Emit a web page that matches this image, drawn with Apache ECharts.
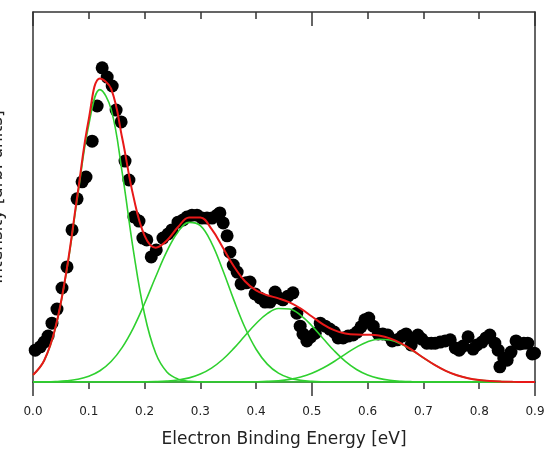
<!DOCTYPE html>
<html>
<head>
<meta charset="utf-8">
<script src="https://cdn.jsdelivr.net/npm/echarts@6/dist/echarts.min.js"></script>
<style>
html,body{margin:0;padding:0;background:#fff;}
#chart{width:547px;height:457px;}
</style>
</head>
<body>
<div id="chart"></div>
<script>
// Measured data points: electron binding energy (eV) and intensity (arb. units)
const energy = [0.004,0.013,0.020,0.027,0.034,0.043,0.052,0.061,0.070,0.079,0.088,0.095,0.106,0.115,0.124,0.133,0.142,0.149,0.158,0.165,0.172,0.181,0.190,0.197,0.204,0.212,0.221,0.233,0.242,0.249,0.260,0.269,0.276,0.285,0.294,0.303,0.312,0.321,0.330,0.335,0.341,0.348,0.353,0.359,0.366,0.373,0.382,0.389,0.398,0.407,0.416,0.425,0.434,0.441,0.448,0.457,0.466,0.473,0.479,0.484,0.491,0.498,0.506,0.515,0.524,0.532,0.540,0.547,0.556,0.565,0.574,0.581,0.588,0.595,0.602,0.610,0.619,0.627,0.636,0.644,0.653,0.662,0.669,0.678,0.683,0.690,0.697,0.706,0.714,0.721,0.730,0.739,0.748,0.757,0.764,0.771,0.780,0.789,0.796,0.805,0.812,0.819,0.828,0.834,0.837,0.844,0.850,0.857,0.866,0.873,0.880,0.887,0.895,0.899];
const intensity = [0.086,0.095,0.108,0.124,0.159,0.197,0.254,0.311,0.411,0.495,0.541,0.554,0.651,0.746,0.849,0.824,0.800,0.735,0.703,0.597,0.546,0.446,0.435,0.389,0.384,0.338,0.357,0.389,0.400,0.411,0.432,0.438,0.446,0.451,0.451,0.443,0.443,0.443,0.451,0.457,0.430,0.395,0.351,0.316,0.297,0.265,0.268,0.270,0.238,0.227,0.216,0.216,0.243,0.227,0.222,0.232,0.241,0.186,0.151,0.130,0.111,0.122,0.132,0.159,0.151,0.143,0.135,0.119,0.119,0.124,0.127,0.135,0.149,0.168,0.173,0.151,0.130,0.130,0.127,0.111,0.114,0.124,0.130,0.100,0.119,0.127,0.116,0.105,0.105,0.105,0.108,0.111,0.114,0.092,0.086,0.097,0.122,0.089,0.100,0.108,0.119,0.127,0.105,0.086,0.041,0.065,0.059,0.081,0.111,0.103,0.105,0.105,0.076,0.078];

// Fit curves sampled along energy
const fitEnergy = [0,0.02,0.04,0.06,0.08,0.10,0.12,0.14,0.16,0.18,0.20,0.22,0.24,0.26,0.28,0.30,0.32,0.34,0.36,0.38,0.40,0.42,0.44,0.46,0.48,0.50,0.52,0.54,0.56,0.58,0.60,0.62,0.64,0.66,0.68,0.70,0.72,0.74,0.76,0.78,0.80,0.82,0.84,0.86,0.88,0.90];
const peak1 = [0.0189,0.0577,0.1445,0.2973,0.5017,0.6950,0.7902,0.7374,0.5649,0.3551,0.1832,0.0776,0.0270,0.0077,0.0018,0.0003,0,0,0,0,0,0,0,0,0,0,0,0,0,0,0,0,0,0,0,0,0,0,0,0,0,0,0,0,0,0];
const peak2 = [0.0002,0.0005,0.0013,0.0031,0.0072,0.0154,0.0304,0.0554,0.0937,0.1465,0.2122,0.2845,0.3531,0.4057,0.4315,0.4228,0.3760,0.3033,0.2219,0.1473,0.0886,0.0484,0.0239,0.0107,0.0044,0.0016,0.0005,0.0002,0,0,0,0,0,0,0,0,0,0,0,0,0,0,0,0,0,0];
const peak3 = [0,0,0,0,0,0,0,0,0,0.0001,0.0004,0.0010,0.0024,0.0054,0.0112,0.0214,0.0376,0.0608,0.0908,0.1248,0.1581,0.1846,0.1987,0.1971,0.1802,0.1518,0.1178,0.0843,0.0556,0.0338,0.0189,0.0098,0.0046,0.0020,0.0008,0.0003,0.0001,0,0,0,0,0,0,0,0,0];
const peak4 = [0,0,0,0,0,0,0,0,0,0,0,0,0,0,0,0,0,0,0.0001,0.0003,0.0007,0.0016,0.0035,0.0072,0.0136,0.0236,0.0377,0.0555,0.0754,0.0943,0.1088,0.1157,0.1134,0.1024,0.0852,0.0653,0.0462,0.0301,0.0181,0.0100,0.0051,0.0024,0.0010,0.0004,0.0002,0.0001];
const fitTotal = [0.0191,0.0582,0.1458,0.3004,0.5089,0.7104,0.8206,0.7928,0.6586,0.5017,0.3958,0.3631,0.3825,0.4188,0.4445,0.4445,0.4136,0.3641,0.3128,0.2724,0.2474,0.2346,0.2261,0.2150,0.1982,0.1770,0.1560,0.1400,0.1310,0.1281,0.1277,0.1255,0.1180,0.1044,0.0860,0.0656,0.0463,0.0301,0.0181,0.0100,0.0051,0.0024,0.0010,0.0004,0.0002,0.0001];

const xName = 'Electron Binding Energy [eV]';
const yName = 'Intensity [arb. units]';

const pairs = (xs, ys) => xs.map((x, i) => [x, ys[i]]);

const axisColor = '#333';
const nameFont = {fontSize: 17, color: '#222', fontFamily: 'DejaVu Sans'};
const chart = echarts.init(document.getElementById('chart'), null, {renderer: 'canvas'});
function tickAxis(position, inside, length, interval, showLine) {
  return {
    type: 'value', min: 0, max: 0.9, interval: interval, position: position,
    axisLine: {show: showLine, onZero: false, lineStyle: {color: axisColor, width: 1.5}},
    axisTick: {show: true, inside: inside, length: length, lineStyle: {color: axisColor, width: 1.5}},
    axisLabel: {show: false}, splitLine: {show: false}
  };
}
chart.setOption({
  animation: false,
  backgroundColor: '#fff',
  grid: {left: 33, right: 12, top: 12, bottom: 75, show: false, containLabel: false, outerBoundsMode: 'none'},
  xAxis: [
    {
      type: 'value', min: 0, max: 0.9, interval: 0.1, position: 'bottom',
      name: xName, nameLocation: 'middle', nameGap: 49, nameTextStyle: nameFont,
      axisLine: {show: true, onZero: false, lineStyle: {color: axisColor, width: 1.5}},
      axisTick: {show: true, inside: false, length: 7, lineStyle: {color: axisColor, width: 1.5}},
      axisLabel: {show: true, margin: 24, fontSize: 12, color: '#222', fontFamily: 'DejaVu Sans',
        formatter: v => v.toFixed(1)},
      splitLine: {show: false}
    },
    tickAxis('bottom', false, 14, 0.5, false),
    tickAxis('top', true, 7, 0.1, true),
    tickAxis('top', true, 14, 0.5, false)
  ],
  yAxis: [
    {
      type: 'value', min: 0, max: 1, position: 'left',
      name: yName, nameLocation: 'middle', nameGap: 27, nameRotate: 90, nameTextStyle: nameFont,
      axisLine: {show: true, onZero: false, lineStyle: {color: axisColor, width: 1.5}},
      axisTick: {show: false}, axisLabel: {show: false}, splitLine: {show: false}
    },
    {
      type: 'value', min: 0, max: 1, position: 'right',
      axisLine: {show: true, onZero: false, lineStyle: {color: axisColor, width: 1.5}},
      axisTick: {show: false}, axisLabel: {show: false}, splitLine: {show: false}
    }
  ],
  series: [
    {type: 'scatter', data: pairs(energy, intensity), symbol: 'circle', symbolSize: 13,
      itemStyle: {color: '#000', opacity: 1}, z: 2, silent: true},
    {type: 'line', data: pairs(fitEnergy, peak1), smooth: 0.4, showSymbol: false, z: 3,
      lineStyle: {color: '#2fd02f', width: 1.6}},
    {type: 'line', data: pairs(fitEnergy, peak2), smooth: 0.4, showSymbol: false, z: 3,
      lineStyle: {color: '#2fd02f', width: 1.6}},
    {type: 'line', data: pairs(fitEnergy, peak3), smooth: 0.4, showSymbol: false, z: 3,
      lineStyle: {color: '#2fd02f', width: 1.6}},
    {type: 'line', data: pairs(fitEnergy, peak4), smooth: 0.4, showSymbol: false, z: 3,
      lineStyle: {color: '#2fd02f', width: 1.6}},
    {type: 'line', data: pairs(fitEnergy, fitTotal), smooth: 0.4, showSymbol: false, z: 4,
      lineStyle: {color: '#e81818', width: 2}}
  ]
});
</script>
</body>
</html>
